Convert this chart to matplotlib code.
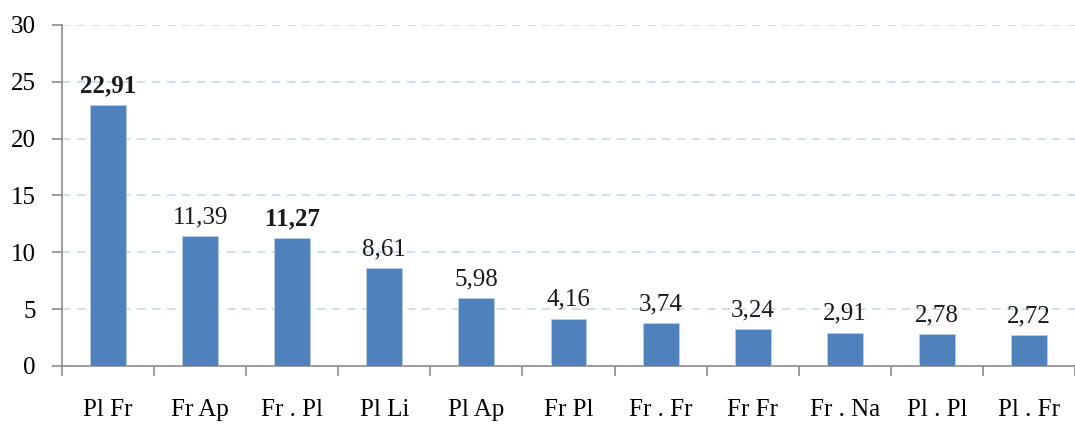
import matplotlib
matplotlib.use("Agg")
import matplotlib.pyplot as plt
import numpy as np

categories = ["Pl Fr", "Fr Ap", "Fr . Pl", "Pl Li", "Pl Ap", "Fr Pl",
              "Fr . Fr", "Fr Fr", "Fr . Na", "Pl . Pl", "Pl . Fr"]
values = [22.91, 11.39, 11.27, 8.61, 5.98, 4.16, 3.74, 3.24, 2.91, 2.78, 2.72]
labels = ["22,91", "11,39", "11,27", "8,61", "5,98", "4,16",
          "3,74", "3,24", "2,91", "2,78", "2,72"]
bold = [True, False, True, False, False, False, False, False, False, False, False]

plt.rcParams["font.family"] = ["Liberation Serif", "DejaVu Serif"]

fig = plt.figure(figsize=(10.75, 4.28), dpi=100)
ax = fig.add_axes([0.0577, 0.145, 0.9423, 0.797])

x = np.arange(len(categories))
ax.bar(x, values, width=0.39, color="#4F81BD", edgecolor="#B9CDE5", linewidth=0.6, zorder=3)

for xi, v, lab, b in zip(x, values, labels, bold):
    ax.text(xi, v + 0.7, lab, ha="center", va="bottom", fontsize=18,
            fontweight="bold" if b else "normal", color="#1a1a1a")

ax.set_xlim(-0.5, len(categories) - 0.5)
ax.set_ylim(0, 30)
ax.set_yticks(range(0, 31, 5))
ax.yaxis.grid(True, linestyle=(0, (5, 4)), color="#C6D9F1", linewidth=1.2, zorder=0)
ax.set_axisbelow(True)

ax.set_xticks(x)
ax.set_xticklabels(categories, fontsize=18)
ax.tick_params(axis="x", length=0, pad=24)
ax.set_xticks(np.arange(-0.5, len(categories)), minor=True)
ax.tick_params(axis="x", which="minor", length=7, width=1.2, color="#8c8c8c", direction="out")
ax.tick_params(axis="y", labelsize=18, length=7, width=1.2, color="#8c8c8c", pad=12)

for s in ["top", "right"]:
    ax.spines[s].set_visible(False)
for s in ["left", "bottom"]:
    ax.spines[s].set_color("#8c8c8c")
    ax.spines[s].set_linewidth(1.2)

fig.savefig("out.png", dpi=100)
